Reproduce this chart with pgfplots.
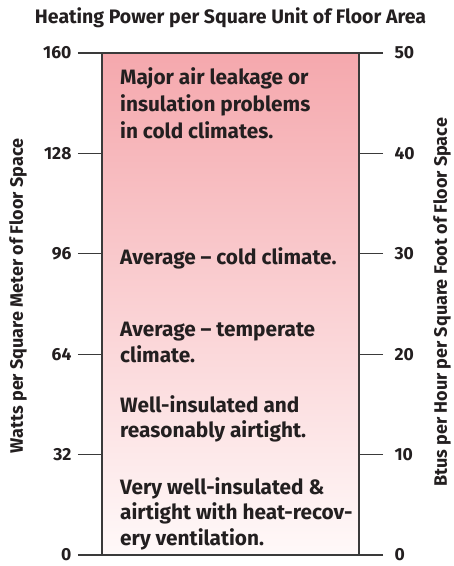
\documentclass[border=0pt]{standalone}
\usepackage{pgfplots}
\pgfplotsset{compat=1.18}
\usepackage{fontspec}
\setmainfont{Fira Sans}
\definecolor{ink}{HTML}{231F20}
\definecolor{pinktop}{HTML}{F5A8AD}
\definecolor{pinkbot}{HTML}{FFF9F9}
\definecolor{rulecol}{HTML}{3A3A3A}

\begin{document}
\begin{tikzpicture}[x=1pt,y=1pt]
\path[use as bounding box] (-102,-11) rectangle (352,555);
\pgfplotsset{
  every axis/.append style={
    scale only axis, width=257pt, height=502pt,
    xmin=0, xmax=1, ymin=0, xtick=\empty,
    axis line style={draw=none},
    tick align=outside, major tick length=24pt,
    tick style={rulecol, line width=1.1pt},
    /pgf/number format/assume math mode=true,
    ticklabel style={font=\bfseries\fontsize{17.5}{17.5}\selectfont, text=ink},
    label style={font=\bfseries\fontsize{18}{18}\selectfont, text=ink},
    clip=false,
  }
}
% left axis: watts per square meter
\begin{axis}[
  ymax=160, ytick={0,32,64,96,128,160}, ytick pos=left,
  yticklabel style={xshift=-3pt},
  title={Heating Power per Square Unit of Floor Area},
  title style={font=\bfseries\fontsize{19.5}{19.5}\selectfont, text=ink,
    at={(axis description cs:0.5,1)}, anchor=base, yshift=23pt},
  ylabel={Watts per Square Meter of Floor Space},
  ylabel style={at={(axis description cs:-0.327,0.516)}, anchor=center},
]
\addplot[draw=rulecol, line width=1.1pt, top color=pinktop, bottom color=pinkbot]
  coordinates {(0,0) (0,160) (1,160) (1,0)} -- cycle;
\tikzset{lab/.style={anchor=base west, text=ink, inner sep=0pt,
  font=\bfseries\fontsize{20.8}{20.8}\selectfont}}
\node[lab] at (axis cs:0.07,150.1) {Major air leakage or};
\node[lab] at (axis cs:0.07,141.4) {insulation problems};
\node[lab] at (axis cs:0.07,132.6) {in cold climates.};
\node[lab] at (axis cs:0.07,92.5) {Average – cold climate.};
\node[lab] at (axis cs:0.07,69.5) {Average – temperate};
\node[lab] at (axis cs:0.07,61.5) {climate.};
\node[lab] at (axis cs:0.07,45.3) {Well-insulated and};
\node[lab] at (axis cs:0.07,37.3) {reasonably airtight.};
\node[lab] at (axis cs:0.07,19.4) {Very well-insulated \&};
\node[lab] at (axis cs:0.07,11.2) {airtight with heat-recov-};
\node[lab] at (axis cs:0.07,2.9) {ery ventilation.};
\end{axis}
% right axis: btus per hour per square foot
\begin{axis}[
  ymax=50, ytick={0,10,20,30,40,50}, ytick pos=right,
  yticklabel pos=right, yticklabel style={xshift=8pt},
  ylabel={Btus per Hour per Square Foot of Floor Space},
  ylabel style={at={(axis description cs:1.323,0.503)}, anchor=center},
]
\end{axis}
\end{tikzpicture}
\end{document}
